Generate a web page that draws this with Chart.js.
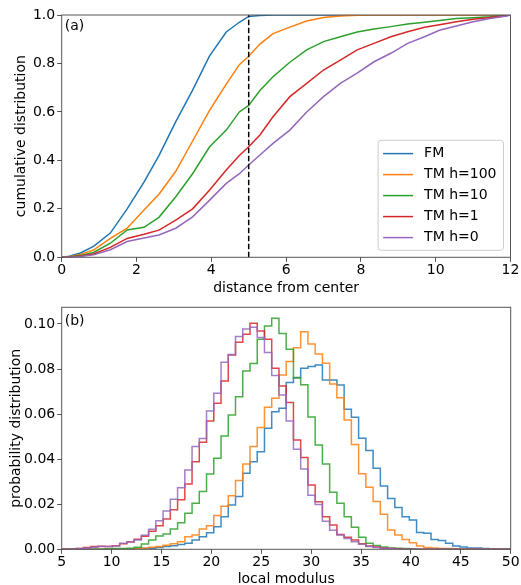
<!DOCTYPE html>
<html>
<head>
<meta charset="utf-8">
<script src="https://cdn.jsdelivr.net/npm/chart.js@4.4.0/dist/chart.umd.min.js"></script>
<style>
html, body { margin: 0; padding: 0; background: #fff; overflow: hidden; }
#wrap { position: relative; width: 521px; height: 585px; }
#wrap canvas { position: absolute; left: 0; top: 0; }
</style>
</head>
<body>
<div id="wrap">
    <canvas id="cdfCanvas" width="521" height="585"></canvas>
    <canvas id="histCanvas" width="521" height="585"></canvas>
</div>
<script>
// series names and colours
var seriesLabels = ['FM', 'TM h=100', 'TM h=10', 'TM h=1', 'TM h=0'];
var seriesColors = ['#1f77b4', '#ff7f0e', '#2ca02c', '#d62728', '#9467bd'];

// (a) cumulative distribution vs distance from center
var distance = [0, 0.2, 0.5, 0.85, 1.3, 1.75, 2.2, 2.6, 3.05, 3.5, 3.95, 4.4, 4.75, 5.0, 5.3, 5.65,
    6.1, 6.55, 7.0, 7.45, 7.9, 8.35, 8.8, 9.25, 9.7, 10.1, 10.55, 11.0, 11.45, 11.9, 12];
var cdfFM = [0, 0.004, 0.018, 0.045, 0.10, 0.20, 0.31, 0.42, 0.56, 0.69, 0.83, 0.93, 0.97, 0.994, 0.998, 1.0,
    1, 1, 1, 1, 1, 1, 1, 1, 1, 1, 1, 1, 1, 1, 1];
var cdfH100 = [0, 0.002, 0.012, 0.03, 0.078, 0.12, 0.195, 0.26, 0.355, 0.48, 0.605, 0.715, 0.795, 0.83, 0.88, 0.923,
    0.95, 0.975, 0.99, 0.996, 0.999, 1, 1, 1, 1, 1, 1, 1, 1, 1, 1];
var cdfH10 = [0, 0.001, 0.008, 0.02, 0.058, 0.113, 0.124, 0.165, 0.25, 0.345, 0.455, 0.525, 0.6, 0.627, 0.688, 0.745,
    0.805, 0.856, 0.89, 0.91, 0.93, 0.942, 0.952, 0.963, 0.97, 0.977, 0.986, 0.989, 0.993, 1.0, 1.0];
var cdfH1 = [0, 0.001, 0.005, 0.014, 0.041, 0.078, 0.095, 0.112, 0.153, 0.20, 0.277, 0.36, 0.42, 0.456, 0.505, 0.58,
    0.663, 0.718, 0.773, 0.814, 0.856, 0.883, 0.91, 0.931, 0.949, 0.96, 0.972, 0.982, 0.99, 0.998, 1.0];
var cdfH0 = [0, 0, 0.003, 0.01, 0.031, 0.065, 0.08, 0.092, 0.12, 0.167, 0.235, 0.305, 0.345, 0.381, 0.422, 0.47,
    0.525, 0.60, 0.663, 0.718, 0.76, 0.807, 0.842, 0.883, 0.91, 0.937, 0.955, 0.972, 0.986, 0.996, 1.0];
var cutoffDistance = 5;
var cdfXTicks = [0, 2, 4, 6, 8, 10, 12];
var cdfYTicks = [0, 0.2, 0.4, 0.6, 0.8, 1.0];

// (b) probability distribution of local modulus, 62 bins from 5 to 50
var histStart = 5, histEnd = 50, histBins = 62;
var histFM = [0, 0, 0, 0, 0, 0, 0, 0, 0, 0,
    0.0002, 0.0003, 0.0005, 0.0008, 0.0012, 0.0016, 0.0021, 0.0027, 0.0041, 0.0056,
    0.0074, 0.0100, 0.0145, 0.0197, 0.0234, 0.0337, 0.0389, 0.0433, 0.0537, 0.0611,
    0.0626, 0.0740, 0.0763, 0.0803, 0.0811, 0.0818, 0.0751, 0.0751, 0.0729, 0.0621,
    0.0586, 0.0493, 0.0438, 0.0360, 0.0281, 0.0226, 0.0186, 0.0145, 0.0130, 0.0075,
    0.0071, 0.0044, 0.0039, 0.0027, 0.0015, 0.0010, 0.0006, 0.0006, 0.0004, 0,
    0, 0];
var histH100 = [0, 0, 0, 0, 0, 0, 0, 0, 0, 0.0002,
    0.0004, 0.0006, 0.0009, 0.0012, 0.0018, 0.0025, 0.0034, 0.0056, 0.0063, 0.0090,
    0.0105, 0.0150, 0.0191, 0.0238, 0.0305, 0.0379, 0.0456, 0.0540, 0.0630, 0.0670,
    0.0774, 0.0833, 0.0895, 0.0966, 0.0911, 0.0867, 0.0826, 0.0734, 0.0673, 0.0574,
    0.0465, 0.0335, 0.0275, 0.0212, 0.0156, 0.0086, 0.0063, 0.0044, 0.0029, 0.0015,
    0.0008, 0.0006, 0.0004, 0.0003, 0.0002, 0, 0, 0, 0, 0,
    0, 0];
var histH10 = [0, 0, 0, 0, 0, 0, 0.0002, 0.0003, 0.0004, 0.0005,
    0.0009, 0.0024, 0.0041, 0.0059, 0.0068, 0.0090, 0.0118, 0.0160, 0.0204, 0.0256,
    0.0334, 0.0404, 0.0503, 0.0596, 0.0677, 0.0791, 0.0825, 0.0932, 0.0991, 0.1025,
    0.0958, 0.0888, 0.0760, 0.0730, 0.0587, 0.0463, 0.0379, 0.0253, 0.0204, 0.0145,
    0.0098, 0.0053, 0.0027, 0.0017, 0.0010, 0.0006, 0.0005, 0.0003, 0.0002, 0,
    0, 0, 0, 0, 0, 0, 0, 0, 0, 0,
    0, 0];
var histH1 = [0, 0, 0.0004, 0.0008, 0.0012, 0.0013, 0.0012, 0.0016, 0.0025, 0.0032,
    0.0045, 0.0058, 0.0080, 0.0104, 0.0135, 0.0175, 0.0220, 0.0290, 0.0389, 0.0475,
    0.0569, 0.0648, 0.0747, 0.0862, 0.0919, 0.0954, 0.1003, 0.0969, 0.0932, 0.0803,
    0.0725, 0.0652, 0.0485, 0.0407, 0.0285, 0.0211, 0.0145, 0.0108, 0.0066, 0.0053,
    0.0041, 0.0025, 0.0015, 0.0010, 0.0006, 0.0004, 0.0002, 0, 0, 0,
    0, 0, 0, 0, 0, 0, 0, 0, 0, 0,
    0, 0];
var histH0 = [0, 0, 0.0003, 0.0005, 0.0009, 0.0012, 0.0012, 0.0015, 0.0027, 0.0034,
    0.0041, 0.0062, 0.0089, 0.0127, 0.0170, 0.0222, 0.0273, 0.0352, 0.0456, 0.0492,
    0.0614, 0.0692, 0.0830, 0.0865, 0.0944, 0.0978, 0.0985, 0.0940, 0.0873, 0.0771,
    0.0685, 0.0569, 0.0444, 0.0356, 0.0240, 0.0199, 0.0125, 0.0085, 0.0063, 0.0048,
    0.0033, 0.0022, 0.0012, 0.0008, 0.0005, 0.0003, 0, 0, 0, 0,
    0, 0, 0, 0, 0, 0, 0, 0, 0, 0,
    0, 0];
var histXTicks = [5, 10, 15, 20, 25, 30, 35, 40, 45, 50];
var histYTicks = [0, 0.02, 0.04, 0.06, 0.08, 0.10];
var histYMax = 0.1074;

Chart.defaults.font.family = "'DejaVu Sans', sans-serif";
Chart.defaults.font.size = 14;
Chart.defaults.color = '#000';
Chart.defaults.animation = false;

var axisColor = '#555555';

function withAlpha(hex, a) {
    var n = parseInt(hex.slice(1), 16);
    return 'rgba(' + (n >> 16) + ',' + ((n >> 8) & 255) + ',' + (n & 255) + ',' + a + ')';
}

function fixedTicks(list) {
    return function (scale) {
        scale.ticks = list.map(function (v) { return { value: v }; });
    };
}

function cdfPoints(values) {
    return distance.map(function (d, i) { return { x: d, y: values[i] }; });
}

function histPoints(density) {
    var width = (histEnd - histStart) / histBins;
    var pts = [{ x: histStart, y: 0 }];
    density.forEach(function (d, k) {
        pts.push({ x: histStart + k * width, y: d });
    });
    pts.push({ x: histEnd, y: density[density.length - 1] });
    pts.push({ x: histEnd, y: 0 });
    return pts;
}

// box round the plot area and the panel letter
var framePlugin = {
    id: 'frame',
    afterDatasetsDraw: function (chart, args, opts) {
        var a = chart.chartArea, ctx = chart.ctx;
        ctx.save();
        ctx.strokeStyle = axisColor;
        ctx.lineWidth = 1;
        ctx.strokeRect(a.left, a.top, a.right - a.left, a.bottom - a.top);
        ctx.fillStyle = '#000';
        ctx.font = "14px 'DejaVu Sans'";
        ctx.textBaseline = 'middle';
        ctx.fillText(opts.label, a.left + 3, a.top + opts.labelDy);
        ctx.restore();
    }
};

// matplotlib style legend in the lower right corner
var boxLegend = {
    id: 'boxLegend',
    afterDatasetsDraw: function (chart) {
        var items = chart.data.datasets.filter(function (d) { return d.label; });
        var ctx = chart.ctx, a = chart.chartArea;
        ctx.save();
        ctx.font = "14px 'DejaVu Sans'";
        var textW = 0;
        items.forEach(function (d) { textW = Math.max(textW, ctx.measureText(d.label).width); });
        var rowH = 21;
        var w = 5 + 30 + 11 + textW + 7;
        var h = rowH * (items.length - 1) + 26;
        var x = a.right - 7 - w, y = a.bottom - 7 - h;
        ctx.beginPath();
        if (ctx.roundRect) ctx.roundRect(x, y, w, h, 3); else ctx.rect(x, y, w, h);
        ctx.fillStyle = 'rgba(255,255,255,0.8)';
        ctx.fill();
        ctx.strokeStyle = '#cccccc';
        ctx.lineWidth = 1;
        ctx.stroke();
        items.forEach(function (d, i) {
            var cy = y + 13.3 + i * rowH;
            ctx.strokeStyle = d.borderColor;
            ctx.lineWidth = 1.5;
            ctx.beginPath();
            ctx.moveTo(x + 5, cy);
            ctx.lineTo(x + 35, cy);
            ctx.stroke();
            ctx.fillStyle = '#000';
            ctx.textBaseline = 'middle';
            ctx.fillText(d.label, x + 46, cy);
        });
        ctx.restore();
    }
};

function axisOptions(min, max, tickList, title, fmt, size, titlePad) {
    return {
        type: 'linear',
        min: min,
        max: max,
        afterBuildTicks: fixedTicks(tickList),
        ticks: { padding: size.pad, callback: fmt },
        grid: { drawOnChartArea: false, tickLength: 4.5, color: axisColor },
        border: { display: false },
        title: { display: true, text: title, padding: titlePad },
        afterFit: size.fit
    };
}

function showCdf() {
    var cdfSeries = [cdfFM, cdfH100, cdfH10, cdfH1, cdfH0];
    var datasets = cdfSeries.map(function (vals, i) {
        return {
            label: seriesLabels[i],
            data: cdfPoints(vals),
            borderColor: seriesColors[i],
            borderWidth: 1.5,
            pointRadius: 0,
            tension: 0,
            order: 4 - i
        };
    });
    datasets.push({
        data: [{ x: cutoffDistance, y: 0 }, { x: cutoffDistance, y: 1 }],
        borderColor: '#000',
        borderWidth: 1.5,
        borderDash: [5.5, 2.5],
        pointRadius: 0,
        order: -1
    });

    new Chart(document.getElementById('cdfCanvas'), {
        type: 'line',
        data: { datasets: datasets },
        options: {
            responsive: false,
            layout: { padding: { left: 0, top: 15, right: 10.5, bottom: 288.1 } },
            plugins: {
                legend: { display: false },
                tooltip: { enabled: false },
                frame: { label: '(a)', labelDy: 11 }
            },
            scales: {
                x: axisOptions(0, 12, cdfXTicks, 'distance from center',
                    function (v) { return v; },
                    { pad: 0, fit: function (s) { s.height = 39.6; } },
                    { top: 0, bottom: 0 }),
                y: axisOptions(0, 1, cdfYTicks, 'cumulative distribution',
                    function (v) { return v.toFixed(1); },
                    { pad: 2, fit: function (s) { s.width = 61.7; } },
                    { top: 13.3, bottom: 0 })
            }
        },
        plugins: [framePlugin, boxLegend]
    });
}

function showHist() {
    var histSeries = [histFM, histH100, histH10, histH1, histH0];
    var datasets = histSeries.map(function (vals, i) {
        return {
            data: histPoints(vals),
            borderColor: withAlpha(seriesColors[i], 0.85),
            borderWidth: 1.5,
            pointRadius: 0,
            stepped: true,
            order: 4 - i
        };
    });

    new Chart(document.getElementById('histCanvas'), {
        type: 'line',
        data: { datasets: datasets },
        options: {
            responsive: false,
            layout: { padding: { left: 0, top: 307.3, right: 10.3, bottom: 0 } },
            plugins: {
                legend: { display: false },
                tooltip: { enabled: false },
                frame: { label: '(b)', labelDy: 14 }
            },
            scales: {
                x: axisOptions(histStart, histEnd, histXTicks, 'local modulus',
                    function (v) { return v; },
                    { pad: 0, fit: function (s) { s.height = 35.7; } },
                    { top: 0, bottom: -2.9 }),
                y: axisOptions(0, histYMax, histYTicks, 'probability distribution',
                    function (v) { return v.toFixed(2); },
                    { pad: 2, fit: function (s) { s.width = 61.7; } },
                    { top: 8.3, bottom: 0 })
            }
        },
        plugins: [framePlugin]
    });
}

showCdf();
showHist();
</script>
</body>
</html>
